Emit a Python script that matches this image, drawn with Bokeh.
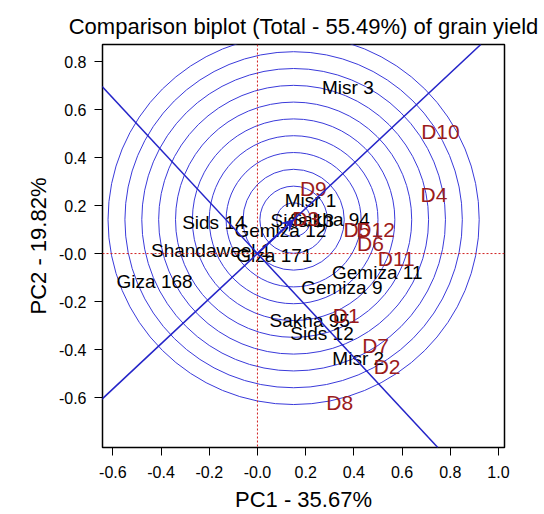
from bokeh.plotting import figure
from bokeh.models import Range1d, FixedTicker, Span, Slope, Arrow, VeeHead, ColumnDataSource
from bokeh.core.properties import value
from bokeh.embed import file_html
from bokeh.resources import INLINE

# ---- data ----
genotypes = ["Misr 3", "Misr 1", "Sids 14", "Sids 13", "Sakha 94", "Gemiza 12",
             "Shandaweel 1", "Giza 171", "Giza 168", "Gemiza 11", "Gemiza 9",
             "Sakha 95", "Sids 12", "Misr 2"]
gen_pc1 = [0.375, 0.220, -0.181, 0.186, 0.300, 0.095, -0.192, 0.070, -0.427,
           0.497, 0.350, 0.217, 0.268, 0.418]
gen_pc2 = [0.690, 0.221, 0.128, 0.138, 0.142, 0.096, 0.013, -0.008, -0.115,
           -0.078, -0.140, -0.279, -0.335, -0.439]

environments = ["D10", "D4", "D9", "D3", "D5", "D12", "D6", "D11", "D1", "D7", "D2", "D8"]
env_pc1 = [0.759, 0.732, 0.232, 0.200, 0.413, 0.490, 0.469, 0.576, 0.368, 0.490, 0.538, 0.341]
env_pc2 = [0.510, 0.245, 0.270, 0.148, 0.099, 0.099, 0.040, -0.020, -0.258, -0.383, -0.471, -0.620]

ideal_pc1 = 0.150
ideal_pc2 = 0.141
aea_slope = 0.94
perp_slope = -1.08
ring_radius = [0.07, 0.14, 0.21, 0.28, 0.35, 0.42, 0.49, 0.56, 0.63, 0.70, 0.77]

x_ticks = [-0.6, -0.4, -0.2, 0.0, 0.2, 0.4, 0.6, 0.8, 1.0]
x_tick_labels = ["-0.6", "-0.4", "-0.2", "-0.0", "0.2", "0.4", "0.6", "0.8", "1.0"]
y_ticks = [-0.6, -0.4, -0.2, 0.0, 0.2, 0.4, 0.6, 0.8]
y_tick_labels = ["-0.6", "-0.4", "-0.2", "-0.0", "0.2", "0.4", "0.6", "0.8"]

title_text = "Comparison biplot (Total - 55.49%) of grain yield"
x_label = "PC1 - 35.67%"
y_label = "PC2 - 19.82%"

FONT = "Liberation Sans"
BLUE = "#2424C8"
RING = "#3A3ADA"
DARKRED = "#9B1B1B"

p = figure(width=544, height=514,
           x_range=Range1d(-0.643, 1.025), y_range=Range1d(-0.808, 0.871),
           output_backend="svg", toolbar_location=None,
           min_border_left=102, min_border_right=40, min_border_top=44, min_border_bottom=67)

p.title.text = title_text
p.title.align = "center"
p.title.text_font = FONT
p.title.text_font_size = "22px"
p.title.text_font_style = "normal"
p.title.text_color = "black"
p.title.standoff = 11

p.grid.visible = False
p.outline_line_color = "black"
p.outline_line_width = 1.5
p.background_fill_color = "white"
p.border_fill_color = "white"

for ax, ticks, labels, lab in ((p.xaxis, x_ticks, x_tick_labels, x_label),
                               (p.yaxis, y_ticks, y_tick_labels, y_label)):
    ax.ticker = FixedTicker(ticks=ticks)
    ax.major_label_overrides = dict(zip(ticks, labels))
    ax.axis_line_color = None
    ax.major_tick_in = 0
    ax.major_tick_out = 8
    ax.major_tick_line_color = "black"
    ax.minor_tick_line_color = None
    ax.major_label_text_font = FONT
    ax.major_label_text_font_size = "16px"
    ax.major_label_text_color = "black"
    ax.axis_label = lab
    ax.axis_label_text_font = FONT
    ax.axis_label_text_font_size = "22px"
    ax.axis_label_text_font_style = "normal"
    ax.axis_label_text_color = "black"
p.xaxis.major_label_standoff = 10
p.xaxis.axis_label_standoff = 6
p.yaxis.major_label_standoff = 8
p.yaxis.axis_label_standoff = 5
p.yaxis.major_label_orientation = "horizontal"

# concentric rings around the ideal genotype
n = len(ring_radius)
ring_src = ColumnDataSource(dict(x=[ideal_pc1] * n, y=[ideal_pc2] * n,
                                 d=[2 * r for r in ring_radius]))
p.ellipse(x="x", y="y", width="d", height="d", source=ring_src,
          fill_color=None, line_color=RING, line_width=1)

# reference lines at zero
p.add_layout(Span(location=0, dimension="width", line_color="#D02020",
                  line_dash="2 2", line_width=1))
p.add_layout(Span(location=0, dimension="height", line_color="#D02020",
                  line_dash="2 2", line_width=1))

# average-environment axis and its perpendicular
p.add_layout(Slope(gradient=aea_slope, y_intercept=0, line_color=BLUE, line_width=1.5))
p.add_layout(Slope(gradient=perp_slope, y_intercept=0, line_color=BLUE, line_width=1.5))

p.add_layout(Arrow(end=VeeHead(size=11, fill_color=BLUE, line_color=BLUE),
                   x_start=0, y_start=0, x_end=ideal_pc1, y_end=ideal_pc2,
                   line_color=BLUE, line_width=2))

gen_src = ColumnDataSource(dict(x=gen_pc1, y=gen_pc2, t=genotypes))
p.text(x="x", y="y", text="t", source=gen_src, text_align="center",
       text_baseline="middle", text_font=value(FONT), text_font_size=value("19px"),
       text_color="black")

env_src = ColumnDataSource(dict(x=env_pc1, y=env_pc2, t=environments))
p.text(x="x", y="y", text="t", source=env_src, text_align="center",
       text_baseline="middle", text_font=value(FONT), text_font_size=value("21px"),
       text_color=DARKRED)

open("out.html", "w").write(file_html(p, INLINE))
